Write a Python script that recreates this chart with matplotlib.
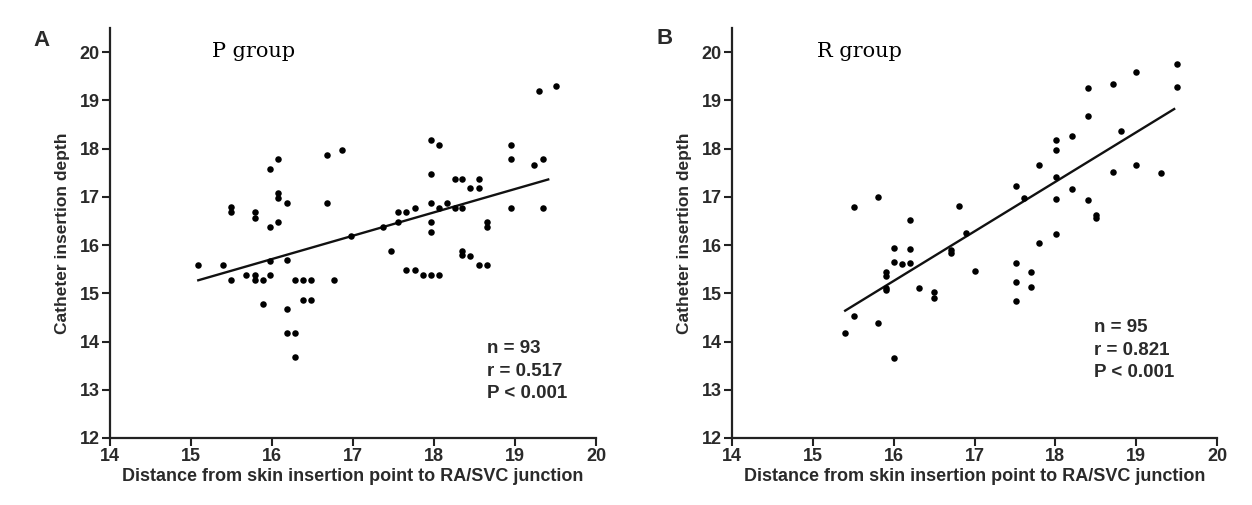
import matplotlib
matplotlib.use("Agg")
import matplotlib.pyplot as plt

# ---------------- data ----------------
p_x = [15.09, 15.39, 15.49, 15.49, 15.49, 15.68, 15.79, 15.79, 15.79, 15.79,
       15.89, 15.89, 15.98, 16.08, 16.08, 16.08, 15.98, 16.08, 15.98, 15.98,
       16.18, 16.18, 16.18, 16.18, 16.28, 16.28, 16.28, 16.38, 16.48, 16.38,
       16.48, 16.68, 16.87, 16.68, 16.77, 16.97, 17.37, 17.47, 17.56, 17.66,
       17.56, 17.76, 17.66, 17.76, 17.86, 17.96, 18.06, 17.96, 18.06, 17.96,
       17.96, 17.96, 17.96, 18.06, 18.16, 18.26, 18.35, 18.26, 18.35, 18.45,
       18.55, 18.55, 18.35, 18.35, 18.45, 18.55, 18.65, 18.65, 18.65, 18.95,
       18.95, 18.95, 19.24, 19.34, 19.34, 19.3, 19.5]
p_y = [15.58, 15.58, 16.78, 16.68, 15.27, 15.38, 16.68, 16.57, 15.38, 15.27,
       15.27, 14.78, 17.57, 17.78, 17.08, 16.97, 16.37, 16.48, 15.67, 15.38,
       16.88, 15.68, 14.68, 14.18, 14.18, 13.68, 15.27, 15.27, 15.27, 14.87,
       14.87, 17.87, 17.97, 16.88, 15.27, 16.18, 16.38, 15.88, 16.68, 16.68,
       16.48, 16.77, 15.48, 15.48, 15.38, 15.38, 15.38, 18.18, 18.07, 17.47,
       16.88, 16.48, 16.28, 16.77, 16.88, 17.37, 17.37, 16.77, 16.77, 17.18,
       17.18, 17.37, 15.88, 15.79, 15.78, 15.58, 15.58, 16.48, 16.38, 18.07,
       17.78, 16.77, 17.67, 17.78, 16.77, 19.2, 19.3]
p_fit_x = [15.09, 19.41]
p_fit_y = [15.27, 17.36]

r_x = [15.51, 15.80, 15.40, 15.51, 15.80, 16.00, 15.91, 15.91, 15.91, 15.91,
       16.00, 16.00, 16.10, 16.20, 16.20, 16.20, 16.31, 16.50, 16.50, 16.81,
       16.71, 16.71, 16.90, 17.00, 17.51, 17.51, 17.51, 17.51, 17.61, 17.70,
       17.70, 17.80, 17.80, 18.01, 18.01, 18.01, 18.01, 18.01, 18.20, 18.20,
       18.41, 18.41, 18.41, 18.50, 18.50, 18.71, 18.71, 18.81, 19.00, 19.00,
       19.31, 19.51, 19.51]
r_y = [16.79, 16.99, 14.17, 14.53, 14.38, 13.65, 15.45, 15.36, 15.11, 15.07,
       15.93, 15.65, 15.61, 16.51, 15.91, 15.62, 15.10, 15.03, 14.91, 16.81,
       15.90, 15.83, 16.24, 15.46, 17.23, 15.62, 15.23, 14.83, 16.97, 15.44,
       15.14, 17.65, 16.04, 18.18, 17.97, 17.42, 16.95, 16.22, 18.27, 17.16,
       19.26, 18.67, 16.93, 16.62, 16.57, 19.33, 17.51, 18.36, 19.59, 17.66,
       17.50, 19.75, 19.27]
r_fit_x = [15.40, 19.47]
r_fit_y = [14.64, 18.82]

x_ticks = [14, 15, 16, 17, 18, 19, 20]
y_ticks = [12, 13, 14, 15, 16, 17, 18, 19, 20]
x_label = "Distance from skin insertion point to RA/SVC junction"
y_label = "Catheter insertion depth"
stats_p = ["n = 93", "r = 0.517", "P < 0.001"]
stats_r = ["n = 95", "r = 0.821", "P < 0.001"]

# ---------------- figure ----------------
W, H = 1252, 505
fig = plt.figure(figsize=(W / 100, H / 100), dpi=100)
fig.patch.set_facecolor("white")

txt_col = "#2a2a2a"
sans = ["Liberation Sans", "DejaVu Sans"]
serif = ["DejaVu Serif", "Liberation Serif"]


def setup(ax):
    ax.set_xlim(14, 20)
    ax.set_ylim(12, 20.5)
    for s in ["top", "right"]:
        ax.spines[s].set_visible(False)
    for s in ["left", "bottom"]:
        ax.spines[s].set_linewidth(1.6)
        ax.spines[s].set_color("#222222")
    ax.spines["bottom"].set_bounds(14, 20)
    ax.set_xticks(x_ticks)
    ax.set_yticks(y_ticks)
    ax.tick_params(direction="out", length=5.5, width=1.5, colors="#222222",
                   labelsize=13, pad=2)
    for lab in ax.get_xticklabels() + ax.get_yticklabels():
        lab.set_fontweight("bold")
        lab.set_family(sans)
        lab.set_color(txt_col)
    ax.set_xlabel(x_label, fontsize=13, fontweight="bold", family=sans,
                  color=txt_col, labelpad=2)
    ax.set_ylabel(y_label, fontsize=12.5, fontweight="bold", family=sans,
                  color=txt_col, labelpad=7)


axA = fig.add_axes([110 / W, 1 - 438 / H, 486 / W, (438 - 28) / H])
axB = fig.add_axes([732 / W, 1 - 438 / H, 485 / W, (438 - 28) / H])

for ax, xs, ys, fx, fy in [(axA, p_x, p_y, p_fit_x, p_fit_y),
                           (axB, r_x, r_y, r_fit_x, r_fit_y)]:
    setup(ax)
    ax.scatter(xs, ys, s=22, color="black", zorder=3, linewidths=0)
    ax.plot(fx, fy, color="#111111", lw=1.7, zorder=2)

axA.text(15.26, 19.9, "P group", family=serif, fontsize=15, color="black",
         va="baseline", ha="left")
axB.text(15.05, 19.9, "R group", family=serif, fontsize=15, color="black",
         va="baseline", ha="left")

for i, s in enumerate(stats_p):
    axA.text(18.66, 13.76 - i * 0.47, s, family=sans, fontsize=13.5,
             fontweight="bold", color=txt_col, va="baseline", ha="left")
for i, s in enumerate(stats_r):
    axB.text(18.48, 14.2 - i * 0.47, s, family=sans, fontsize=13.5,
             fontweight="bold", color=txt_col, va="baseline", ha="left")

fig.text(42 / W, 1 - 40 / H, "A", family=sans, fontsize=16, fontweight="bold",
         color=txt_col, ha="center", va="center")
fig.text(665 / W, 1 - 38 / H, "B", family=sans, fontsize=16, fontweight="bold",
         color=txt_col, ha="center", va="center")

fig.savefig("out.png", dpi=100, facecolor="white")
